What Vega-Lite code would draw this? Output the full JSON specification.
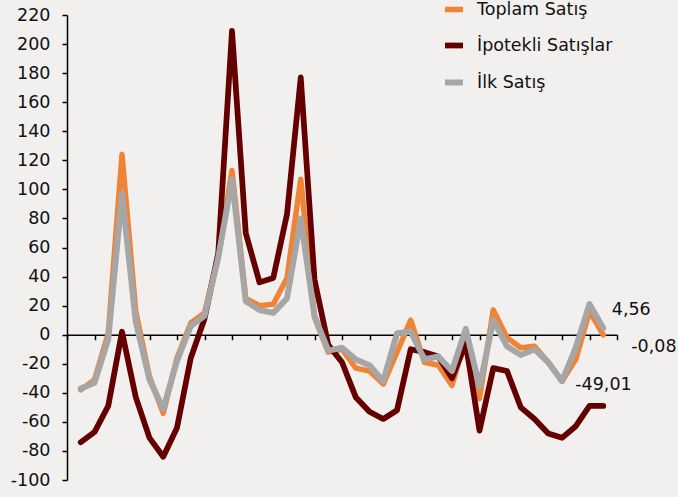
{
  "$schema": "https://vega.github.io/schema/vega-lite/v6.json",
  "width": 550,
  "height": 465,
  "autosize": {"type": "none"},
  "padding": {"left": 67, "top": 15, "right": 61, "bottom": 17},
  "background": "#f2f0ef",
  "config": {
    "view": {"stroke": null},
    "font": "DejaVu Sans",
    "axis": {"labelFont": "DejaVu Sans", "labelFontSize": 17.5, "labelColor": "#111111", "domainColor": "#000000", "tickColor": "#000000", "domainWidth": 1.5, "tickWidth": 1.5, "grid": false, "title": null, "labelOverlap": false}
  },
  "datasets": {
    "series": [
      {"i":0,"s":"Toplam Satış","v":-38},{"i":1,"s":"Toplam Satış","v":-31},{"i":2,"s":"Toplam Satış","v":1},{"i":3,"s":"Toplam Satış","v":124},{"i":4,"s":"Toplam Satış","v":16},{"i":5,"s":"Toplam Satış","v":-29},{"i":6,"s":"Toplam Satış","v":-54},{"i":7,"s":"Toplam Satış","v":-16},{"i":8,"s":"Toplam Satış","v":8},{"i":9,"s":"Toplam Satış","v":15},
      {"i":10,"s":"Toplam Satış","v":54},{"i":11,"s":"Toplam Satış","v":113},{"i":12,"s":"Toplam Satış","v":25},{"i":13,"s":"Toplam Satış","v":20},{"i":14,"s":"Toplam Satış","v":21},{"i":15,"s":"Toplam Satış","v":39},{"i":16,"s":"Toplam Satış","v":107},{"i":17,"s":"Toplam Satış","v":12},{"i":18,"s":"Toplam Satış","v":-12},{"i":19,"s":"Toplam Satış","v":-10},
      {"i":20,"s":"Toplam Satış","v":-23},{"i":21,"s":"Toplam Satış","v":-25},{"i":22,"s":"Toplam Satış","v":-34},{"i":23,"s":"Toplam Satış","v":-12},{"i":24,"s":"Toplam Satış","v":10},{"i":25,"s":"Toplam Satış","v":-19},{"i":26,"s":"Toplam Satış","v":-21},{"i":27,"s":"Toplam Satış","v":-35},{"i":28,"s":"Toplam Satış","v":-2},{"i":29,"s":"Toplam Satış","v":-44},
      {"i":30,"s":"Toplam Satış","v":17},{"i":31,"s":"Toplam Satış","v":-2},{"i":32,"s":"Toplam Satış","v":-9},{"i":33,"s":"Toplam Satış","v":-8},{"i":34,"s":"Toplam Satış","v":-19},{"i":35,"s":"Toplam Satış","v":-32},{"i":36,"s":"Toplam Satış","v":-17},{"i":37,"s":"Toplam Satış","v":16},{"i":38,"s":"Toplam Satış","v":-0.08},
      {"i":0,"s":"İpotekli Satışlar","v":-74},{"i":1,"s":"İpotekli Satışlar","v":-67},{"i":2,"s":"İpotekli Satışlar","v":-49},{"i":3,"s":"İpotekli Satışlar","v":2},{"i":4,"s":"İpotekli Satışlar","v":-43},{"i":5,"s":"İpotekli Satışlar","v":-71},{"i":6,"s":"İpotekli Satışlar","v":-84},{"i":7,"s":"İpotekli Satışlar","v":-64},{"i":8,"s":"İpotekli Satışlar","v":-16},{"i":9,"s":"İpotekli Satışlar","v":11},
      {"i":10,"s":"İpotekli Satışlar","v":56},{"i":11,"s":"İpotekli Satışlar","v":209},{"i":12,"s":"İpotekli Satışlar","v":70},{"i":13,"s":"İpotekli Satışlar","v":36},{"i":14,"s":"İpotekli Satışlar","v":39},{"i":15,"s":"İpotekli Satışlar","v":83},{"i":16,"s":"İpotekli Satışlar","v":177},{"i":17,"s":"İpotekli Satışlar","v":38},{"i":18,"s":"İpotekli Satışlar","v":-7},{"i":19,"s":"İpotekli Satışlar","v":-19},
      {"i":20,"s":"İpotekli Satışlar","v":-43},{"i":21,"s":"İpotekli Satışlar","v":-53},{"i":22,"s":"İpotekli Satışlar","v":-58},{"i":23,"s":"İpotekli Satışlar","v":-52},{"i":24,"s":"İpotekli Satışlar","v":-10},{"i":25,"s":"İpotekli Satışlar","v":-12},{"i":26,"s":"İpotekli Satışlar","v":-15},{"i":27,"s":"İpotekli Satışlar","v":-30},{"i":28,"s":"İpotekli Satışlar","v":-6},{"i":29,"s":"İpotekli Satışlar","v":-66},
      {"i":30,"s":"İpotekli Satışlar","v":-23},{"i":31,"s":"İpotekli Satışlar","v":-25},{"i":32,"s":"İpotekli Satışlar","v":-50},{"i":33,"s":"İpotekli Satışlar","v":-58},{"i":34,"s":"İpotekli Satışlar","v":-68},{"i":35,"s":"İpotekli Satışlar","v":-71},{"i":36,"s":"İpotekli Satışlar","v":-63},{"i":37,"s":"İpotekli Satışlar","v":-49},{"i":38,"s":"İpotekli Satışlar","v":-49.01},
      {"i":0,"s":"İlk Satış","v":-37},{"i":1,"s":"İlk Satış","v":-33},{"i":2,"s":"İlk Satış","v":-3},{"i":3,"s":"İlk Satış","v":97},{"i":4,"s":"İlk Satış","v":9},{"i":5,"s":"İlk Satış","v":-31},{"i":6,"s":"İlk Satış","v":-51},{"i":7,"s":"İlk Satış","v":-18},{"i":8,"s":"İlk Satış","v":6},{"i":9,"s":"İlk Satış","v":13},
      {"i":10,"s":"İlk Satış","v":53},{"i":11,"s":"İlk Satış","v":107},{"i":12,"s":"İlk Satış","v":23},{"i":13,"s":"İlk Satış","v":17},{"i":14,"s":"İlk Satış","v":15},{"i":15,"s":"İlk Satış","v":25},{"i":16,"s":"İlk Satış","v":80},{"i":17,"s":"İlk Satış","v":13},{"i":18,"s":"İlk Satış","v":-11},{"i":19,"s":"İlk Satış","v":-9},
      {"i":20,"s":"İlk Satış","v":-17},{"i":21,"s":"İlk Satış","v":-21},{"i":22,"s":"İlk Satış","v":-32},{"i":23,"s":"İlk Satış","v":1},{"i":24,"s":"İlk Satış","v":2},{"i":25,"s":"İlk Satış","v":-17},{"i":26,"s":"İlk Satış","v":-15},{"i":27,"s":"İlk Satış","v":-25},{"i":28,"s":"İlk Satış","v":4},{"i":29,"s":"İlk Satış","v":-36},
      {"i":30,"s":"İlk Satış","v":10},{"i":31,"s":"İlk Satış","v":-8},{"i":32,"s":"İlk Satış","v":-14},{"i":33,"s":"İlk Satış","v":-10},{"i":34,"s":"İlk Satış","v":-19},{"i":35,"s":"İlk Satış","v":-32},{"i":36,"s":"İlk Satış","v":-9},{"i":37,"s":"İlk Satış","v":21},{"i":38,"s":"İlk Satış","v":4.56}
    ],
    "ends": [
      {"i":38,"s":"İlk Satış","v":4.56,"label":"4,56"},
      {"i":38,"s":"Toplam Satış","v":-0.08,"label":"-0,08"},
      {"i":38,"s":"İpotekli Satışlar","v":-49.01,"label":"-49,01"}
    ]
  },
  "encoding": {
    "x": {"field": "i", "type": "quantitative", "scale": {"domain": [-1, 39], "nice": false, "zero": false},
          "axis": {"orient": "bottom", "offset": -145.31, "values": [-1,1,3,5,7,9,11,13,15,17,19,21,23,25,27,29,31,33,35,37,39], "labels": false, "tickSize": 5, "domain": true}},
    "y": {"field": "v", "type": "quantitative", "scale": {"domain": [-100, 220], "nice": false, "zero": false},
          "axis": {"values": [-100,-80,-60,-40,-20,0,20,40,60,80,100,120,140,160,180,200,220], "tickSize": 5, "labelPadding": 12, "labelExpr": "'' + datum.value", "labelOverlap": false, "labelBound": false, "labelFlush": false}}
  },
  "layer": [
    {
      "data": {"name": "series"},
      "mark": {"type": "line", "strokeCap": "round", "strokeJoin": "round"},
      "encoding": {
        "color": {"field": "s", "type": "nominal",
                  "scale": {"domain": ["Toplam Satış", "İpotekli Satışlar", "İlk Satış"], "range": ["#f08436", "#640000", "#a6a6a6"]},
                  "legend": {"title": null, "orient": "none", "legendX": 375, "legendY": -17.5, "symbolType": "stroke", "symbolSize": 324, "symbolStrokeWidth": 6, "labelFont": "DejaVu Sans", "labelFontSize": 17.5, "labelColor": "#111111", "labelOffset": 11, "rowPadding": 13, "padding": 0}},
        "strokeWidth": {"field": "s", "type": "nominal", "scale": {"domain": ["Toplam Satış", "İpotekli Satışlar", "İlk Satış"], "range": [5.5, 6, 4.5]}, "legend": null}
      }
    },
    {
      "data": {"name": "ends"},
      "transform": [{"filter": "datum.s === 'İlk Satış'"}],
      "mark": {"type": "text", "align": "left", "baseline": "alphabetic", "dx": 8.5, "dy": -13, "font": "DejaVu Sans", "fontSize": 17.5, "color": "#111111"},
      "encoding": {"text": {"field": "label"}}
    },
    {
      "data": {"name": "ends"},
      "transform": [{"filter": "datum.s === 'Toplam Satış'"}],
      "mark": {"type": "text", "align": "left", "baseline": "alphabetic", "dx": 28, "dy": 17, "font": "DejaVu Sans", "fontSize": 17.5, "color": "#111111"},
      "encoding": {"text": {"field": "label"}}
    },
    {
      "data": {"name": "ends"},
      "transform": [{"filter": "datum.s === 'İpotekli Satışlar'"}],
      "mark": {"type": "text", "align": "left", "baseline": "alphabetic", "dx": -28, "dy": -16, "font": "DejaVu Sans", "fontSize": 17.5, "color": "#111111"},
      "encoding": {"text": {"field": "label"}}
    }
  ]
}
